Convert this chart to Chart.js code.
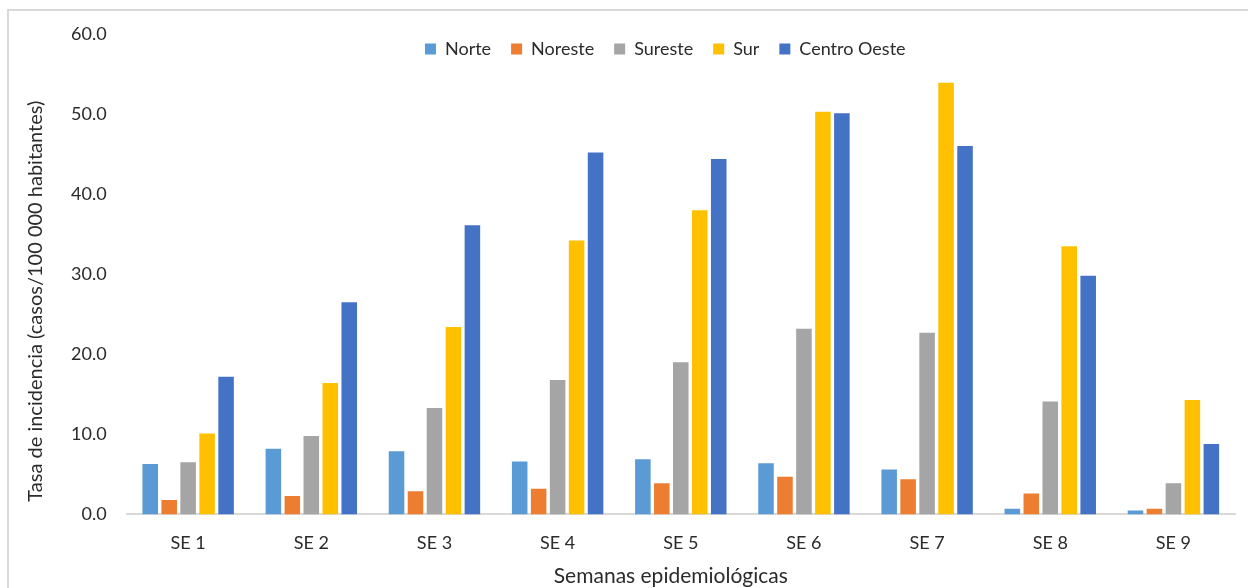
<!DOCTYPE html>
<html>
<head>
<meta charset="utf-8">
<script src="https://cdn.jsdelivr.net/npm/chart.js@4"></script>
<style>
  html, body { margin: 0; padding: 0; background: #fff; overflow: hidden; }
  #wrap { position: relative; width: 1248px; height: 588px; }
  #frame { position: absolute; left: 7px; top: 9px; width: 1400px; height: 700px;
           border-left: 2px solid #d9d9d9; border-top: 2px solid #d9d9d9; }
  #incidenciaChart { position: absolute; left: 0; top: 0; }
</style>
</head>
<body>
<div id="wrap">
  <div id="frame"></div>
  <canvas id="incidenciaChart" width="1248" height="588"></canvas>
</div>
<script>
const semanas = ['SE 1', 'SE 2', 'SE 3', 'SE 4', 'SE 5', 'SE 6', 'SE 7', 'SE 8', 'SE 9'];
const norte = [6.3, 8.2, 7.9, 6.6, 6.9, 6.4, 5.6, 0.7, 0.5];
const noreste = [1.8, 2.3, 2.9, 3.2, 3.9, 4.7, 4.4, 2.6, 0.7];
const sureste = [6.5, 9.8, 13.3, 16.8, 19.0, 23.2, 22.7, 14.1, 3.9];
const sur = [10.1, 16.4, 23.4, 34.2, 38.0, 50.3, 53.9, 33.5, 14.3];
const centroOeste = [17.2, 26.5, 36.1, 45.2, 44.4, 50.1, 46.0, 29.8, 8.8];
const yTicks = [0, 10, 20, 30, 40, 50, 60];

const textColor = '#2b2b2b';
const fontFamily = 'Lato, "Open Sans", sans-serif';

// legend sits over the top of the plot and the axis titles are off-centre, like the Excel original
const layoutTweaks = {
    id: 'layoutTweaks',
    afterLayout(chart) {
        const lg = chart.legend;
        const area = chart.chartArea;
        const dx = (area.left + (area.right - area.left) * 0.486) - (lg.left + lg.right) / 2;
        const dy = (area.top - 14) - lg.top;
        lg.left += dx; lg.right += dx;
        lg.top += dy; lg.bottom += dy;
    },
    afterDraw(chart) {
        const ctx = chart.ctx;
        const area = chart.chartArea;
        ctx.save();
        ctx.fillStyle = textColor;
        ctx.textAlign = 'center';
        ctx.textBaseline = 'middle';
        ctx.font = '21px ' + fontFamily;
        ctx.fillText('Semanas epidemiológicas', area.left + (area.right - area.left) * 0.491, area.bottom + 62);
        ctx.font = '20px ' + fontFamily;
        ctx.translate(36, (area.top + area.bottom) / 2 + 27);
        ctx.rotate(-Math.PI / 2);
        ctx.fillText('Tasa de incidencia (casos/100 000 habitantes)', 0, 0);
        ctx.restore();
    }
};

document.addEventListener('DOMContentLoaded', function() {
    const ctx = document.getElementById('incidenciaChart').getContext('2d');

    new Chart(ctx, {
        type: 'bar',
        data: {
            labels: semanas,
            datasets: [
                { label: 'Norte', data: norte, backgroundColor: '#5B9BD5' },
                { label: 'Noreste', data: noreste, backgroundColor: '#ED7D31' },
                { label: 'Sureste', data: sureste, backgroundColor: '#A5A5A5' },
                { label: 'Sur', data: sur, backgroundColor: '#FFC000' },
                { label: 'Centro Oeste', data: centroOeste, backgroundColor: '#4472C4' }
            ]
        },
        options: {
            responsive: false,
            animation: false,
            devicePixelRatio: 1,
            layout: { padding: { left: 51, right: 13, top: -14, bottom: 16 } },
            datasets: {
                bar: { categoryPercentage: 0.77, barPercentage: 0.82, borderWidth: 0 }
            },
            plugins: {
                legend: {
                    position: 'top',
                    labels: {
                        color: textColor,
                        font: { family: fontFamily, size: 18 },
                        boxWidth: 11,
                        boxHeight: 11,
                        padding: 20
                    }
                },
                title: { display: false },
                tooltip: { enabled: false }
            },
            scales: {
                x: {
                    grid: { display: false, drawTicks: false },
                    border: { display: true, color: '#d9d9d9', width: 2 },
                    ticks: { color: textColor, font: { family: fontFamily, size: 18 }, padding: 18 }
                },
                y: {
                    min: 0,
                    max: 60,
                    afterBuildTicks(axis) {
                        axis.ticks = yTicks.map(v => ({ value: v }));
                    },
                    grid: { display: false, drawTicks: false },
                    border: { display: false },
                    ticks: {
                        color: textColor,
                        font: { family: fontFamily, size: 18 },
                        padding: 20,
                        callback: v => v.toFixed(1)
                    }
                }
            }
        },
        plugins: [layoutTweaks]
    });
});
</script>
</body>
</html>
